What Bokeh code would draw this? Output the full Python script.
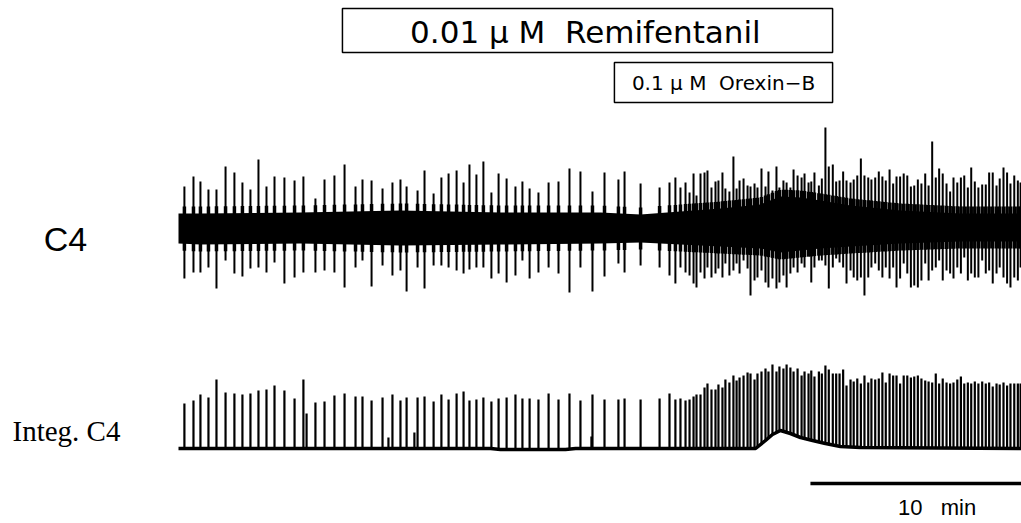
import numpy as np
from bokeh.plotting import figure
from bokeh.models import Range1d, Label
from bokeh.embed import file_html
from bokeh.resources import INLINE

# ---------------- data (time in minutes, amplitudes in arbitrary units) ----------------
burst_t = [
    0.28, 0.71, 1.04, 1.42, 1.80, 2.23, 2.65, 3.03, 3.41, 3.79,
    4.17, 4.55, 5.02, 5.50, 5.92, 6.49, 6.92, 7.39, 7.87, 8.39,
    8.72, 9.15, 9.67, 10.14, 10.52, 10.81, 11.33, 11.66, 12.09, 12.46,
    12.80, 13.18, 13.51, 13.79, 14.12, 14.45, 14.83, 15.17, 15.55, 15.97,
    16.30, 16.64, 17.06, 17.54, 18.01, 18.53, 19.05, 19.62,
    20.19, 20.85, 21.14, 21.90, 22.80, 23.27, 23.55, 23.79, 24.03, 24.22,
    24.41, 24.55, 24.74, 24.93, 25.07, 25.26, 25.45, 25.59, 25.78, 25.92,
    26.11, 26.30, 26.45, 26.59, 26.78, 26.97, 27.11, 27.30, 27.44, 27.63,
    27.82, 27.96, 28.15, 28.34, 28.48, 28.67, 28.82, 29.00, 29.15, 29.34,
    29.53, 29.67, 29.86,
    29.99, 30.14, 30.35, 30.49, 30.66, 30.82, 31.01, 31.17, 31.33, 31.50,
    31.66, 31.85, 32.00, 32.17, 32.34, 32.51, 32.69, 32.84, 33.02, 33.19,
    33.36, 33.52, 33.70, 33.87, 34.03, 34.20, 34.37, 34.54, 34.71, 34.87,
    35.04, 35.21, 35.39, 35.55, 35.72, 35.89, 36.05, 36.22, 36.40, 36.57,
    36.73, 36.91, 37.08, 37.24, 37.41, 37.57, 37.74, 37.91, 38.09, 38.26,
    38.42, 38.59, 38.77, 38.92, 39.10, 39.27, 39.43, 39.61, 39.78, 39.91,
]

# raw C4: upward and downward spike amplitude of each burst
c4_up = [
    42, 52, 47, 39, 39, 62, 56, 46, 39, 69, 42, 52, 51, 48, 52, 30, 49, 53, 64, 42,
    49, 48, 40, 46, 49, 42, 38, 58, 35, 51, 55, 58, 46, 64, 54, 67, 36, 55, 50, 42,
    47, 40, 36, 46, 47, 60, 57, 37,
    56, 49, 57, 45, 41, 46, 51, 41, 46, 36, 55, 33, 55, 56, 58, 41, 47, 48, 56, 40,
    37, 72, 40, 48, 50, 43, 42, 45, 41, 60, 42, 57, 38, 62, 41, 48, 46, 41, 59, 53,
    51, 55, 46,
    47, 56, 43, 50, 101, 62, 64, 47, 48, 57, 48, 46, 49, 53, 70, 53, 51, 49, 51, 57,
    52, 48, 59, 45, 52, 52, 55, 53, 42, 43, 49, 45, 55, 43, 87, 51, 60, 55, 45, 37,
    51, 46, 51, 53, 41, 61, 47, 41, 44, 44, 56, 56, 43, 50, 61, 56, 45, 53, 48, 46,
]
c4_down = [
    50, 44, 44, 39, 60, 32, 45, 48, 40, 39, 44, 34, 55, 49, 44, 44, 42, 44, 59, 39,
    32, 58, 37, 47, 42, 63, 39, 60, 37, 37, 39, 42, 45, 41, 39, 39, 50, 45, 54, 47,
    32, 50, 44, 39, 45, 64, 39, 63,
    48, 35, 44, 37, 39, 47, 55, 39, 44, 47, 55, 59, 44, 50, 39, 49, 45, 40, 49, 35,
    47, 42, 35, 45, 32, 40, 67, 52, 49, 42, 54, 59, 50, 60, 54, 47, 59, 45, 39, 44,
    35, 39, 27,
    54, 39, 32, 32, 37, 60, 39, 30, 34, 39, 55, 42, 49, 52, 49, 67, 49, 39, 35, 42,
    49, 39, 50, 39, 59, 50, 35, 45, 59, 57, 59, 52, 35, 52, 42, 39, 32, 52, 42, 45,
    50, 39, 45, 29, 52, 45, 49, 49, 32, 45, 42, 55, 45, 39, 49, 55, 59, 49, 52, 39,
]

# integrated C4: peak level of each burst above the resting baseline
integ_peak = [
    45, 48, 54, 51, 69, 56, 55, 54, 55, 58, 59, 63, 58, 50, 69, 46, 47, 53, 55, 52,
    52, 48, 51, 54, 48, 51, 51, 52, 47, 54, 49, 55, 57, 48, 49, 51, 47, 50, 51, 54,
    50, 50, 49, 55, 49, 55, 48, 54,
    49, 49, 50, 49, 50, 55, 49, 50, 48, 49, 52, 54, 54, 61, 65, 59, 59, 64, 61, 69,
    66, 73, 68, 71, 73, 76, 75, 69, 75, 77, 80, 77, 84, 77, 82, 80, 84, 81, 77, 80,
    73, 77, 75,
    78, 72, 77, 75, 83, 79, 75, 75, 75, 79, 63, 69, 67, 70, 65, 73, 66, 70, 69, 70,
    76, 66, 75, 73, 73, 65, 73, 73, 71, 72, 73, 70, 68, 67, 66, 75, 65, 70, 66, 65,
    66, 69, 72, 65, 66, 65, 67, 65, 67, 65, 66, 62, 65, 64, 66, 63, 65, 65, 65, 65,
]

# small secondary deflections of the integrated trace
minor_t = [6.07, 9.95, 11.18, 19.57]
minor_h = [35, 11, 16, 12]

# integrated-trace resting level (drift)
base_t = [0.0, 14.79, 15.26, 18.34, 18.82, 27.35, 27.82, 28.15, 28.53, 29.00,
          29.48, 30.05, 30.66, 31.37, 32.32, 39.95]
base_lvl = [0, 0, -1, -1, 0, 0, 8, 14, 18, 15, 11, 8, 5, 2, 1, 0]

# raw C4 tonic noise band (half-widths above / below the trace centre)
band_t = [0.0, 1.04, 5.78, 10.52, 15.26, 20.00, 21.90, 23.79, 25.69, 27.58,
          28.53, 29.48, 30.43, 31.85, 34.22, 37.06, 39.95]
band_hi = [15, 15, 16, 18, 16, 16, 14, 17, 20, 24, 32, 31, 28, 23, 18, 15, 15]
band_lo = [15, 16, 15, 17, 16, 15, 14, 16, 18, 20, 24, 22, 20, 18, 15, 13, 13]

# drug application periods (min) and labels
remi_on, remi_off = 7.77, 31.00
orex_on, orex_off = 20.66, 31.00
NB = "\u00a0"
remi_label = f"0.01{NB}μ{NB}M{NB}{NB}Remifentanil"
orex_label = f"0.1{NB}μ{NB}M{NB}{NB}Orexin−B"
scale_label = f"10{NB}{NB}{NB}min"
scale_min = 10
t_end = 39.95

# ---------------- layout constants (screen-like y, top = 0) ----------------
C4_Y = 228
INT_Y = 448
BODY = 7   # extra reach of each burst's discharge beyond the tonic band

p = figure(width=1021, height=523, output_backend="svg", toolbar_location=None,
           x_range=Range1d(-8.436, 39.953), y_range=Range1d(523, 0),
           x_axis_location=None, y_axis_location=None, min_border=0)
p.grid.visible = False
p.outline_line_color = None
p.background_fill_color = "white"
p.border_fill_color = "white"

bt = np.array(burst_t)

# raw C4 band
p.varea(x=band_t, y1=[C4_Y - h for h in band_hi], y2=[C4_Y + l for l in band_lo],
        fill_color="black")
# burst discharge bodies (slightly wider than the tonic band)
hi_at = np.interp(bt, band_t, band_hi)
lo_at = np.interp(bt, band_t, band_lo)
p.segment(x0=bt, x1=bt, y0=C4_Y - hi_at - BODY, y1=C4_Y + lo_at + BODY,
          line_color="black", line_width=3.5)
# raw C4 spikes
p.segment(x0=bt, x1=bt, y0=C4_Y - np.array(c4_up), y1=C4_Y + np.array(c4_down),
          line_color="black", line_width=2.0)

# integrated C4
base_at = np.interp(bt, base_t, base_lvl)
p.segment(x0=bt, x1=bt, y0=INT_Y - base_at, y1=INT_Y - np.array(integ_peak),
          line_color="black", line_width=2.2)
mt = np.array(minor_t)
mb = np.interp(mt, base_t, base_lvl)
p.segment(x0=mt, x1=mt, y0=INT_Y - mb, y1=INT_Y - mb - np.array(minor_h),
          line_color="black", line_width=2.2)
p.line(x=base_t, y=[INT_Y - b for b in base_lvl], line_color="black", line_width=3.5)

# application boxes
p.quad(left=[remi_on], right=[remi_off], top=[8], bottom=[52],
       fill_color=None, line_color="black", line_width=1.5)
p.quad(left=[orex_on], right=[orex_off], top=[62], bottom=[102],
       fill_color=None, line_color="black", line_width=1.5)
p.add_layout(Label(x=(remi_on + remi_off) / 2 - 0.1, y=31, text=remi_label,
                   text_font="DejaVu Sans", text_font_size="31px", text_color="black",
                   text_align="center", text_baseline="middle"))
p.add_layout(Label(x=(orex_on + orex_off) / 2, y=82, text=orex_label,
                   text_font="DejaVu Sans", text_font_size="20px", text_color="black",
                   text_align="center", text_baseline="middle"))

# channel labels
p.add_layout(Label(x=65, y=523 - 238, x_units="screen", y_units="screen", text="C4",
                   text_font="Liberation Sans", text_font_size="34px", text_color="black",
                   text_align="center", text_baseline="middle"))
p.add_layout(Label(x=66, y=523 - 430, x_units="screen", y_units="screen", text="Integ. C4",
                   text_font="Liberation Serif", text_font_size="29px", text_color="black",
                   text_align="center", text_baseline="middle"))

# scale bar
p.segment(x0=[t_end - scale_min], x1=[t_end], y0=[483], y1=[483],
          line_color="black", line_width=3.5)
p.add_layout(Label(x=t_end - scale_min / 2 + 1.0, y=507, text=scale_label,
                   text_font="Liberation Sans", text_font_size="22px", text_color="black",
                   text_align="center", text_baseline="middle"))

open("out.html", "w").write(file_html(p, INLINE))
